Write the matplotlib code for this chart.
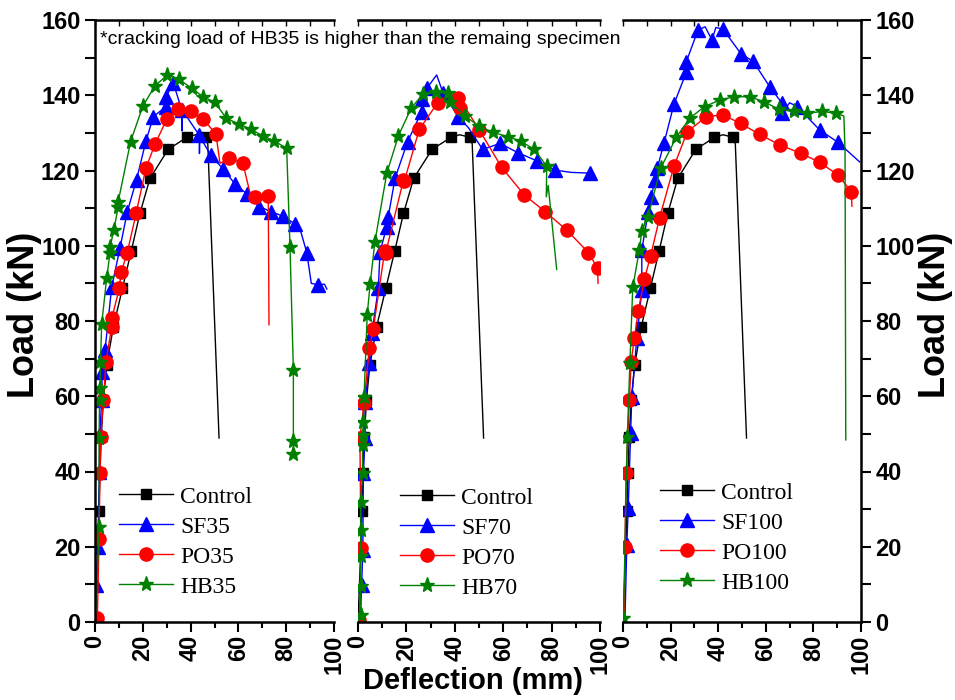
import numpy as np
import matplotlib
matplotlib.use("Agg")
import matplotlib.pyplot as plt
from matplotlib.ticker import MultipleLocator

# ---------------- data: deflection (mm) / load (kN) ----------------
# a False in the *_mk lists marks a line-only point (no marker drawn)
ctrl_x = [0.0, 0.6, 1.2, 1.6, 2.1, 2.6, 3.5, 4.9, 7.7, 11.5, 15.2, 18.8, 23.0, 30.6, 38.4, 42.0, 46.4, 47.2, 51.9]
ctrl_y = [0.0, 10.0, 20.0, 29.5, 39.6, 49.2, 59.0, 68.3, 78.5, 88.7, 98.7, 108.6, 117.9, 125.6, 128.8, 129.5, 128.8, 127.0, 48.9]
ctrl_mk = [False, False, False, True, True, True, True, True, True, True, True, True, True, True, True, False, True, False, False]

sf35_x = [0.0, 0.5, 1.2, 1.5, 1.8, 2.0, 2.8, 3.0, 4.2, 7.0, 10.5, 13.5, 17.4, 21.3, 24.4, 29.7, 29.7, 32.8, 36.3, 36.4, 36.6,
          43.6, 43.7, 43.9, 48.4, 53.7, 58.6, 63.5, 68.8, 73.5, 78.5, 83.7, 86.0, 88.6, 90.5, 93.4, 96.0, 97.0]
sf35_y = [0.0, 9.8, 20.0, 30.0, 40.0, 50.0, 59.0, 66.5, 72.3, 89.1, 99.5, 109.0, 117.6, 127.8, 134.3, 137.0, 139.6, 143.2, 136.1, 130.5, 136.0,
          129.4, 124.5, 129.0, 124.1, 120.3, 116.4, 113.8, 110.4, 109.1, 107.9, 105.8, 104.0, 98.2, 90.0, 89.6, 89.8, 88.5]
sf35_mk = [False, True, True, False, True, True, True, True, True, True, True, True, True, True, True, True, True, True, True, False, False,
           True, False, False, True, True, True, True, True, True, True, True, False, True, False, True, False, False]

po35_x = [1.0, 1.7, 2.1, 2.4, 3.5, 4.6, 7.0, 7.0, 10.2, 10.9, 13.5, 17.2, 21.3, 25.1, 30.0, 34.9, 40.0, 45.3, 50.6, 52.3,
          56.2, 61.8, 64.9, 66.9, 72.5, 72.8]
po35_y = [1.1, 22.1, 39.7, 49.3, 59.0, 69.2, 78.5, 80.7, 88.7, 92.9, 98.2, 108.6, 120.6, 127.0, 133.6, 136.3, 135.8, 133.6, 129.7, 121.9,
          123.2, 122.1, 113.9, 113.0, 113.2, 79.0]
po35_mk = [True] * 19 + [False, True, True, False, True, True, False]

hb35_x = [0.0, 1.8, 1.7, 1.9, 2.1, 2.3, 2.8, 4.9, 6.3, 6.3, 7.9, 9.7, 9.7, 14.9, 20.0, 25.1, 30.3, 35.3, 40.5, 45.3, 50.2,
          54.9, 60.4, 65.1, 70.2, 74.9, 80.2, 81.6, 83.0, 83.0, 83.0, 82.8]
hb35_y = [0.0, 25.2, 49.0, 59.0, 62.2, 69.2, 79.2, 91.5, 98.2, 99.7, 104.2, 110.4, 111.7, 127.7, 137.1, 142.5, 145.4, 144.2, 141.8, 139.6, 138.1,
          133.9, 132.3, 131.0, 129.2, 127.9, 125.9, 99.6, 67.0, 48.2, 44.7, 44.2]
hb35_mk = [False] + [True] * 30 + [False]

sf70_x = [1.0, 1.5, 2.0, 2.2, 2.9, 2.9, 4.7, 5.7, 8.4, 9.1, 11.9, 12.5, 15.3, 20.5, 26.3, 26.3, 28.4, 32.5, 35.2, 41.4,
          45.6, 51.5, 58.7, 66.2, 73.8, 81.4, 88.0, 95.9]
sf70_y = [1.0, 9.8, 19.1, 39.5, 48.8, 58.6, 68.8, 76.7, 88.7, 98.4, 105.1, 107.7, 117.9, 127.7, 135.6, 139.1, 141.8, 145.4, 140.5, 134.3,
          131.4, 125.6, 127.2, 124.7, 122.6, 120.1, 119.5, 119.3]
sf70_mk = [False] + [True] * 16 + [False, True, True, False, True, True, True, True, True, False, True]

po70_x = [0.6, 1.2, 0.8, 2.5, 4.7, 6.3, 11.0, 11.4, 18.8, 19.1, 25.3, 32.9, 41.2, 42.1, 44.0, 50.1, 59.4, 68.7, 77.3,
          86.2, 95.2, 99.0, 99.2]
po70_y = [0.5, 19.6, 48.9, 58.3, 72.9, 77.8, 98.5, 98.0, 117.5, 117.1, 130.9, 138.0, 139.4, 136.5, 137.0, 130.8, 120.8, 113.5, 109.1,
          104.2, 98.2, 94.0, 90.0]
po70_mk = [True] * 14 + [False] + [True] * 7 + [False]

hb70_x = [1.1, 1.1, 1.1, 1.1, 1.1, 1.9, 1.9, 2.2, 2.2, 2.5, 3.8, 5.0, 7.0, 11.9, 16.7, 21.9, 26.7, 32.1, 37.3, 38.0,
          44.2, 50.0, 55.9, 61.9, 67.2, 72.9, 78.0, 77.8, 78.6, 82.1]
hb70_y = [1.9, 9.6, 17.5, 24.5, 32.0, 39.5, 47.0, 49.7, 53.2, 59.9, 81.6, 89.8, 101.1, 119.3, 129.2, 136.5, 140.2, 140.8, 140.5, 138.3,
          134.5, 131.8, 130.1, 129.0, 127.8, 125.6, 121.1, 113.0, 116.0, 93.7]
hb70_mk = [True] * 27 + [False, False, False]

sf100_x = [0.8, 1.6, 2.2, 3.2, 3.7, 5.8, 7.9, 7.9, 10.6, 11.9, 13.4, 14.4, 17.2, 21.4, 26.6, 26.6, 31.5, 34.5, 37.4, 39.0,
           42.0, 49.7, 54.6, 61.6, 66.8, 66.8, 70.0, 73.2, 82.6, 90.3, 99.4]
sf100_y = [0.0, 20.5, 30.2, 50.2, 59.9, 75.4, 88.2, 98.9, 109.0, 113.0, 117.5, 120.6, 127.2, 137.6, 146.1, 148.9, 157.3, 158.2, 154.7, 158.0,
           157.6, 150.9, 149.1, 142.3, 137.9, 135.2, 138.0, 137.0, 130.8, 127.5, 122.3]
sf100_mk = [False] + [True] * 16 + [False, True, False] + [True] * 6 + [False, True, True, True, False]

po100_x = [0.5, 0.8, 1.3, 2.7, 3.4, 4.8, 6.4, 9.0, 11.6, 15.4, 21.4, 27.0, 35.0, 42.0, 49.4, 57.4, 65.8, 74.6, 82.6, 90.3, 95.9, 96.2]
po100_y = [0.5, 20.0, 39.5, 59.0, 69.2, 75.4, 82.7, 91.2, 97.3, 107.5, 121.1, 130.3, 134.3, 134.8, 132.5, 129.6, 126.8, 124.6, 122.2, 118.8, 114.4, 110.5]
po100_mk = [False] + [True] * 20 + [False]

hb100_x = [0.2, 1.8, 2.9, 4.1, 6.9, 7.9, 10.5, 15.8, 22.4, 28.0, 34.3, 40.6, 46.6, 53.2, 59.1, 65.5, 71.8, 77.4, 83.6, 89.6, 92.8, 93.3, 93.6]
hb100_y = [1.0, 49.1, 68.9, 89.0, 98.9, 104.0, 107.7, 120.6, 128.8, 133.9, 137.0, 138.7, 139.6, 139.6, 138.3, 136.3, 135.7, 135.2, 135.7, 135.2, 134.5, 125.0, 48.4]
hb100_mk = [True] * 20 + [False, False, False]

panels = [
    ["SF35", (sf35_x, sf35_y, sf35_mk), "PO35", (po35_x, po35_y, po35_mk), "HB35", (hb35_x, hb35_y, hb35_mk)],
    ["SF70", (sf70_x, sf70_y, sf70_mk), "PO70", (po70_x, po70_y, po70_mk), "HB70", (hb70_x, hb70_y, hb70_mk)],
    ["SF100", (sf100_x, sf100_y, sf100_mk), "PO100", (po100_x, po100_y, po100_mk), "HB100", (hb100_x, hb100_y, hb100_mk)],
]

# ---------------- styling ----------------
plt.rcParams["font.family"] = ["Liberation Sans", "DejaVu Sans"]
TICK_FS = 17
STYLE = {
    "ctrl": dict(color="black", marker="s", ms=7.5),
    "sf": dict(color="blue", marker="^", ms=10),
    "po": dict(color="red", marker="o", ms=9.5),
    "hb": dict(color="green", marker="*", ms=11),
}

fig = plt.figure(figsize=(9.55, 7.0), dpi=100)
W, H = 955.0, 700.0
bottom = 1 - 622 / H
height = (622 - 20) / H
boxes = [(95, 334), (358, 600), (623, 861)]
legend_anchor = [(119, 486), (400, 487), (660, 482)]

for i, (lx, rx) in enumerate(boxes):
    ax = fig.add_axes([lx / W, bottom, (rx - lx) / W, height])
    sf_name, sf, po_name, po, hb_name, hb = panels[i]
    series = [("Control", (ctrl_x, ctrl_y, ctrl_mk), "ctrl"),
              (sf_name, sf, "sf"), (po_name, po, "po"), (hb_name, hb, "hb")]
    for name, (xs, ys, mk), key in series:
        st = STYLE[key]
        ax.plot(xs, ys, color=st["color"], lw=1.0, marker=st["marker"], ms=st["ms"],
                markevery=list(mk), mec=st["color"], mfc=st["color"], label=name)

    ax.set_xlim(0, 100)
    ax.set_ylim(0, 160)
    ax.xaxis.set_major_locator(MultipleLocator(20))
    ax.xaxis.set_minor_locator(MultipleLocator(10))
    ax.yaxis.set_major_locator(MultipleLocator(20))
    ax.yaxis.set_minor_locator(MultipleLocator(10))

    for sp in ax.spines.values():
        sp.set_linewidth(1.8)
    ax.spines["top"].set_visible(False)
    ax.spines["left"].set_visible(i == 0)
    ax.spines["right"].set_visible(i == 2)

    ax.tick_params(axis="x", which="major", direction="out", length=7, width=1.5,
                   labelsize=TICK_FS, labelrotation=90, pad=2)
    ax.tick_params(axis="x", which="minor", direction="out", length=4, width=1.5)
    for lab in ax.get_xticklabels():
        lab.set_fontweight("bold")

    if i == 0:
        ax.tick_params(axis="y", which="both", direction="out", length=7, width=1.5,
                       left=True, right=False, labelleft=True, labelsize=TICK_FS)
    elif i == 2:
        ax.tick_params(axis="y", which="both", direction="out", length=7, width=1.5,
                       left=False, right=True, labelleft=False, labelright=True, labelsize=TICK_FS)
    else:
        ax.tick_params(axis="y", which="both", left=False, right=False, labelleft=False)
    for lab in ax.get_yticklabels():
        lab.set_fontweight("bold")

    # top border with small inward ticks
    top = ax.secondary_xaxis("top")
    top.set_xticks(np.arange(0, 101, 10))
    top.tick_params(direction="in", length=4, width=1.0, labeltop=False)
    top.spines["top"].set_linewidth(1.8)

    leg = ax.legend(loc="upper left", frameon=False, numpoints=1,
                    bbox_to_anchor=((legend_anchor[i][0] - lx) / (rx - lx), (622 - legend_anchor[i][1]) / (622 - 20)),
                    borderaxespad=0, borderpad=0, handlelength=2.3, handletextpad=0.3, labelspacing=0.36,
                    prop=dict(family=["Liberation Serif", "DejaVu Serif"], size=17))

fig.text(24 / W, 1 - 315 / H, "Load (kN)", rotation=90, ha="center", va="center",
         fontsize=26, fontweight="bold")
fig.text(935 / W, 1 - 315 / H, "Load (kN)", rotation=90, ha="center", va="center",
         fontsize=26, fontweight="bold")
fig.text(473 / W, 1 - 681 / H, "Deflection (mm)", ha="center", va="center",
         fontsize=21, fontweight="bold")
fig.text(100 / W, 1 - 39 / H, "*cracking load of HB35 is higher than the remaing specimen",
         ha="left", va="center", fontsize=14)

fig.savefig("out.png", dpi=100)
